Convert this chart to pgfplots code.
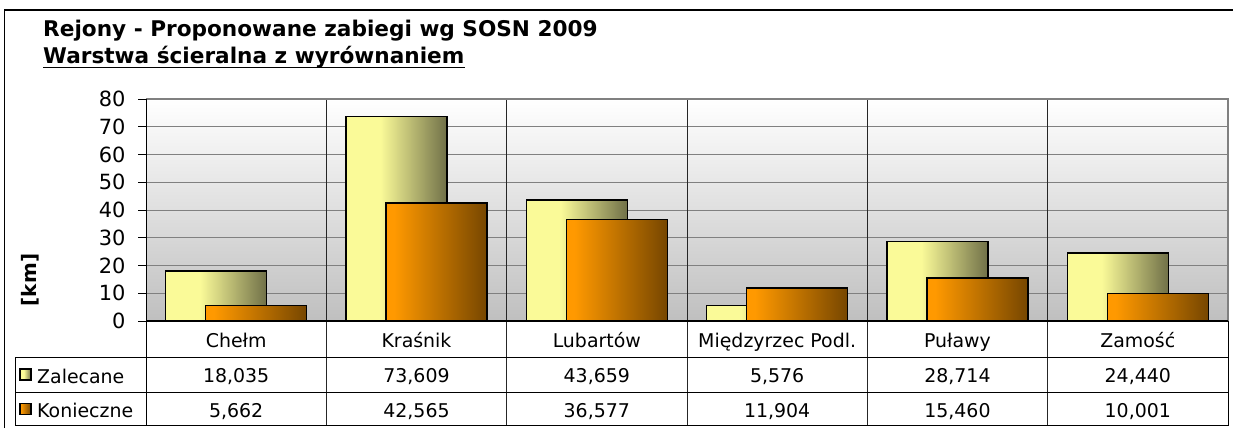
\documentclass[border=0pt]{standalone}
\usepackage{pgfplots}
\pgfplotsset{compat=1.18}
\usepackage{fontspec}
\setmainfont{DejaVu Sans}
\definecolor{yelL}{RGB}{250,250,152}
\definecolor{yelD}{RGB}{112,112,72}
\definecolor{ornL}{RGB}{255,153,0}
\definecolor{ornD}{RGB}{118,70,0}
\pgfdeclarehorizontalshading{yelshade}{100bp}{color(0bp)=(yelL); color(25bp)=(yelL); color(42bp)=(yelL); color(75bp)=(yelD); color(100bp)=(yelD)}
\pgfdeclarehorizontalshading{ornshade}{100bp}{color(0bp)=(ornL); color(25bp)=(ornL); color(29bp)=(ornL); color(75bp)=(ornD); color(100bp)=(ornD)}
\newcommand\tabfont{\fontsize{19}{22}\selectfont}
\pgfplotsset{
  zal/.style={ybar, bar width=0.56, bar shift=-0.111, draw=black, line width=1.4bp, shading=yelshade, mark=none},
  kon/.style={ybar, bar width=0.56, bar shift=0.111, draw=black, line width=1.4bp, shading=ornshade, mark=none},
}
\begin{document}
\begin{tikzpicture}[x=1bp,y=1bp]
\path[use as bounding box] (0,0) rectangle (1233,428);
\draw[black, line width=1.2bp] (4.5,0) -- (4.5,418) -- (1233,418);
\node[anchor=base west, inner sep=0, font=\bfseries\fontsize{21.7}{24}\selectfont] at (43,391) {Rejony - Proponowane zabiegi wg SOSN 2009};
\node[anchor=base west, inner sep=0, font=\bfseries\fontsize{21.7}{24}\selectfont] (sub) at (43,365) {Warstwa ścieralna z wyrównaniem};
\draw[line width=1.5bp] ([yshift=-4.5bp]sub.base west) -- ([yshift=-4.5bp]sub.base east);
\node[rotate=90, font=\bfseries\fontsize{20}{22}\selectfont] at (30,148) {[km]};
\begin{axis}[
  at={(146bp,107bp)}, anchor=south west,
  scale only axis, width=1082bp, height=222bp,
  xmin=0, xmax=6, ymin=0, ymax=80,
  clip=false,
  /pgf/number format/assume math mode=true,
  axis line style={draw=none},
  ytick={0,10,...,80},
  ytick pos=left, tick align=outside, major tick length=8bp,
  ytick style={black, line width=0.8bp},
  yticklabel style={font=\fontsize{21}{24}\selectfont, xshift=-9bp},
  ymajorgrids, grid style={draw=black!50, line width=0.8bp},
  xtick={0.5,1.5,2.5,3.5,4.5,5.5},
  xticklabels={Chełm, Kraśnik, Lubartów, Międzyrzec Podl., Puławy, Zamość},
  xtick style={draw=none},
  xticklabel style={font=\tabfont, anchor=base, yshift=-18bp},
  axis background/.style={top color=white, bottom color=black!25},
]
% category separators
\draw[black!85, line width=0.8bp] (axis cs:1,80) -- (axis cs:1,-37.8)
  (axis cs:2,80) -- (axis cs:2,-37.8) (axis cs:3,80) -- (axis cs:3,-37.8)
  (axis cs:4,80) -- (axis cs:4,-37.8) (axis cs:5,80) -- (axis cs:5,-37.8);
% Zalecane
\addplot[zal] coordinates {(0.5,18.035)};
\addplot[zal] coordinates {(1.5,73.609)};
\addplot[zal] coordinates {(2.5,43.659)};
\addplot[zal] coordinates {(3.5,5.576)};
\addplot[zal] coordinates {(4.5,28.714)};
\addplot[zal] coordinates {(5.5,24.440)};
% Konieczne
\addplot[kon] coordinates {(0.5,5.662)};
\addplot[kon] coordinates {(1.5,42.565)};
\addplot[kon] coordinates {(2.5,36.577)};
\addplot[kon] coordinates {(3.5,11.904)};
\addplot[kon] coordinates {(4.5,15.460)};
\addplot[kon] coordinates {(5.5,10.001)};
\draw[black!50, line width=1.2bp] (axis cs:0,80) -- (axis cs:6,80) -- (axis cs:6,0);
\draw[black, line width=0.8bp] (axis cs:6,0) -- (axis cs:6,-37.8);
\draw[black, line width=1bp] (axis cs:0,80) -- (axis cs:0,-37.8);
\draw[black, line width=1.6bp] (axis cs:0,0) -- (axis cs:6,0);
\draw[black, line width=0.8bp] (axis cs:-0.7264,-13) -- (axis cs:6,-13)
  (axis cs:-0.7264,-25.6) -- (axis cs:6,-25.6)
  (axis cs:-0.7264,-37.8) -- (axis cs:6,-37.8)
  (axis cs:-0.7264,-13) -- (axis cs:-0.7264,-37.8);
% data table rows
\node[font=\tabfont, anchor=base] at (axis cs:0.5,-22.3) {18,035};
\node[font=\tabfont, anchor=base] at (axis cs:1.5,-22.3) {73,609};
\node[font=\tabfont, anchor=base] at (axis cs:2.5,-22.3) {43,659};
\node[font=\tabfont, anchor=base] at (axis cs:3.5,-22.3) {5,576};
\node[font=\tabfont, anchor=base] at (axis cs:4.5,-22.3) {28,714};
\node[font=\tabfont, anchor=base] at (axis cs:5.5,-22.3) {24,440};
\node[font=\tabfont, anchor=base] at (axis cs:0.5,-34.6) {5,662};
\node[font=\tabfont, anchor=base] at (axis cs:1.5,-34.6) {42,565};
\node[font=\tabfont, anchor=base] at (axis cs:2.5,-34.6) {36,577};
\node[font=\tabfont, anchor=base] at (axis cs:3.5,-34.6) {11,904};
\node[font=\tabfont, anchor=base] at (axis cs:4.5,-34.6) {15,460};
\node[font=\tabfont, anchor=base] at (axis cs:5.5,-34.6) {10,001};
\end{axis}
\path[shading=yelshade, draw=black, line width=1.2bp] (20,48) rectangle (31,59);
\node[anchor=base west, inner sep=0, font=\tabfont] at (37,45) {Zalecane};
\path[shading=ornshade, draw=black, line width=1.2bp] (20,13.5) rectangle (31,24.5);
\node[anchor=base west, inner sep=0, font=\tabfont] at (37,11) {Konieczne};
\end{tikzpicture}
\end{document}
